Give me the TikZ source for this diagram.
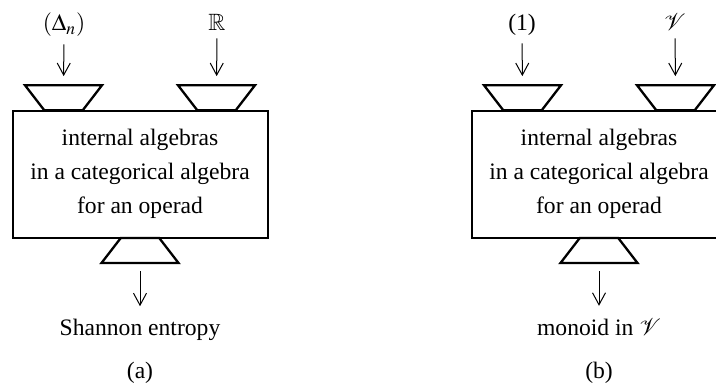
\documentclass[tikz,border=0pt]{standalone}
\usepackage{amssymb}
\usepackage{mathptmx}
\usepackage{mathrsfs}
\usepackage{fontspec}
\setmainfont{Liberation Serif}
\usetikzlibrary{shapes.geometric, arrows.meta, positioning}

\tikzset{
  algbox/.style={draw, line width=1pt, minimum width=127.5pt, minimum height=63.5pt, align=center, inner sep=0},
  lid/.style={draw, line width=1.15pt, trapezium, trapezium angle=63.4, trapezium stretches=true,
    minimum width=38.5pt, minimum height=12.5pt, inner sep=0.5pt},
  inlid/.style={lid, shape border rotate=180},
  port/.style={inner sep=0, anchor=base},
  arr/.style={-{Straight Barb[length=6pt,width=6.5pt]}, line width=0.5pt, shorten <=3.5pt, shorten >=4pt}
}

\begin{document}
\begin{tikzpicture}[x=0.5pt, y=-0.5pt, font=\fontsize{11.8}{17}\selectfont]
  \useasboundingbox (0,0) rectangle (716,385);

  % (a)
  \node[algbox] (box) at (140,174) {internal algebras\\in a categorical algebra\\for an operad};
  \node[inlid] (inL) at (63.5,97.75) {};
  \node[inlid] (inR) at (216.5,97.75) {};
  \node[lid] (out) at (140,250.5) {};
  \node[port] (lblL) at (64,31) {\((\Delta_n)\)};
  \node[port] (lblR) at (217,31) {\(\mathbb{R}\)};
  \node[port] (res) at (140,335) {Shannon entropy};
  \node[port] (cap) at (140,378) {(a)};
  \draw[arr] (lblL) -- (inL);
  \draw[arr] (lblR) -- (inR);
  \draw[arr, shorten >=6pt] (out) -- (res);

  % (b)
  \begin{scope}[xshift=229.5pt]
  \node[algbox] (boxB) at (140,174) {internal algebras\\in a categorical algebra\\for an operad};
  \node[inlid] (inLB) at (63.5,97.75) {};
  \node[inlid] (inRB) at (216.5,97.75) {};
  \node[lid] (outB) at (140,250.5) {};
  \node[port] (lblLB) at (63,31) {(1)};
  \node[port] (lblRB) at (216,31) {\(\mathscr{V}\)};
  \node[port] (resB) at (140,335) {monoid in \(\mathscr{V}\)};
  \node[port] (capB) at (140,378) {(b)};
  \draw[arr] (lblLB) -- (inLB);
  \draw[arr] (lblRB) -- (inRB);
  \draw[arr, shorten >=6pt] (outB) -- (resB);
  \end{scope}
\end{tikzpicture}
\end{document}
